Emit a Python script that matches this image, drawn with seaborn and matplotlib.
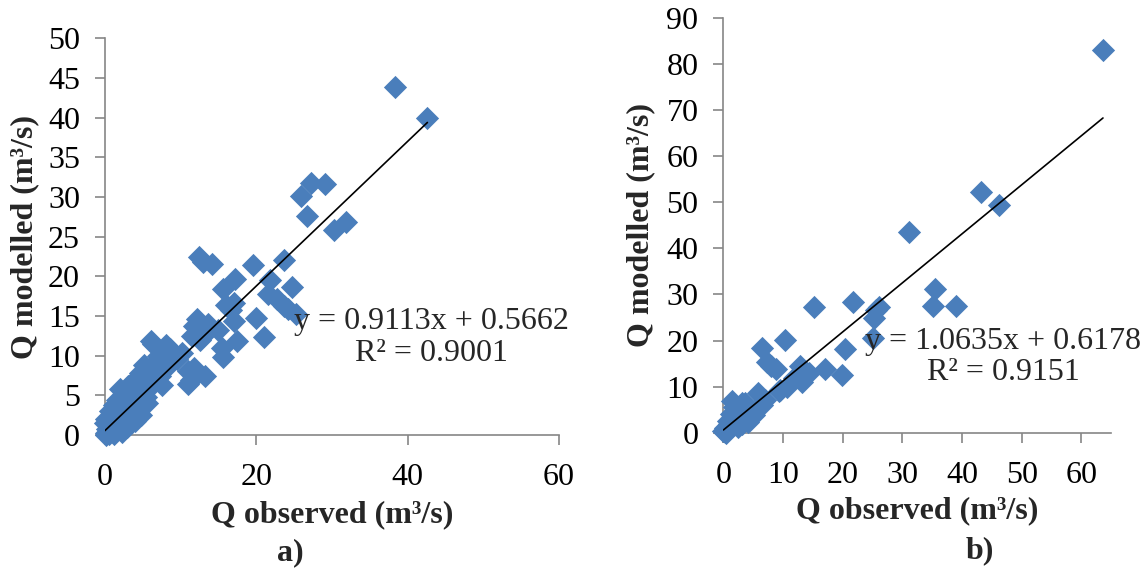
import matplotlib
matplotlib.use("Agg")
import matplotlib.pyplot as plt
import seaborn as sns
import numpy as np
import pandas as pd

# ---------------- data ----------------
obs_a = [38.3, 42.6, 25.9, 27.2, 29.1, 26.7, 30.2, 31.8,
         12.4, 12.9, 14.2, 19.6, 23.6, 21.8, 17.2, 15.6, 24.7, 21.6, 22.7, 23.6,
         24.2, 25.3, 16.0, 17.1, 16.6, 17.1, 19.9, 21.0, 17.5, 14.9, 12.1, 13.6,
         12.3, 11.5, 13.0, 12.6, 15.4, 15.6, 11.0, 11.7, 13.2, 11.0, 11.4, 10.2,
         8.0, 6.1, 7.6, 6.4, 5.2, 7.3, 7.6, 5.6, 4.0, 2.0, 8.6, 9.0, 7.0, 6.8,
         8.2, 5.8, 4.8, 3.5, 2.5, 3.0, 4.2, 5.0, 6.0, 4.5, 3.8, 3.2, 4.0, 2.6,
         2.2, 1.8, 1.2, 0.5, 0.1, 0.3, 0.0, 0.2, 0.8, 1.0, 1.5, 1.2, 2.0, 2.8,
         0.5, 0.9, 1.4, 1.8, 2.4, 3.4, 3.6, 4.6, 5.4, 2.3, 1.6, 0.6, 0.1, 0.4,
         2.9, 3.5, 4.8, 3.0, 6.3, 8.2, 11.7, 9.5, 7.8, 5.5, 4.6, 6.6]
mod_a = [43.9, 39.9, 30.1, 31.8, 31.7, 27.6, 25.9, 26.8,
         22.5, 21.8, 21.5, 21.4, 22.1, 19.5, 19.7, 18.4, 18.7, 17.8, 17.1, 16.3,
         15.9, 15.2, 16.4, 16.6, 15.8, 14.4, 14.8, 12.4, 11.9, 13.3, 14.6, 14.0,
         13.5, 12.5, 12.5, 12.0, 11.0, 9.8, 8.1, 8.5, 7.4, 6.4, 7.0, 10.4,
         11.4, 11.8, 9.3, 8.8, 8.8, 7.5, 6.3, 4.0, 7.0, 5.8, 10.8, 10.0, 10.0, 8.0,
         8.6, 7.2, 6.2, 6.5, 5.2, 4.5, 5.0, 5.5, 6.0, 3.5, 3.0, 2.2, 1.8, 1.5,
         0.4, 1.0, 0.2, 0.1, 0.3, 0.8, 1.5, 2.0, 2.5, 1.8, 3.0, 3.8, 3.5, 4.0,
         1.2, 0.6, 1.2, 2.2, 2.8, 3.6, 5.5, 4.4, 4.8, 4.5, 4.4, 3.0, 0.0, 0.4,
         1.0, 1.5, 2.5, 6.2, 11.5, 10.6, 13.8, 9.6, 9.0, 7.0, 7.8, 6.8]

obs_b = [63.6, 43.1, 46.2, 31.1, 35.5, 35.2, 39.0, 15.2, 21.7, 26.1, 25.5, 25.2,
         25.0, 20.3, 19.8, 10.3, 6.5, 7.3, 8.8, 17.0, 12.9, 13.1, 14.3, 11.8,
         13.1, 10.6, 9.3, 5.8, 7.0, 6.4, 4.2, 1.5, 3.6, 2.7, 8.0, 2.0, 1.2, 0.8,
         0.3, 0.0, 0.5, 1.0, 1.6, 2.2, 3.0, 3.8, 4.5, 2.4, 1.0, 0.2, 3.2, 4.0,
         5.2, 9.5, 1.7, 3.1, 4.5]
mod_b = [83.1, 52.3, 49.4, 43.5, 31.1, 27.6, 27.6, 27.2, 28.4, 27.2, 26.6, 24.8,
         20.5, 18.1, 12.6, 20.1, 18.4, 15.4, 13.8, 13.8, 14.5, 12.3, 13.0, 11.9,
         11.1, 9.9, 9.1, 8.7, 7.1, 6.0, 2.4, 6.8, 6.4, 4.8, 14.5, 5.5, 4.0, 2.5,
         1.0, 0.5, 0.0, 0.8, 1.6, 2.4, 3.2, 4.0, 4.4, 1.2, 2.0, 0.2, 2.0, 5.5,
         3.8, 9.3, 5.7, 6.5, 3.5]

slope_a, icpt_a, r2_a = 0.9113, 0.5662, 0.9001
slope_b, icpt_b, r2_b = 1.0635, 0.6178, 0.9151

xticks_a = [0, 20, 40, 60]
yticks_a = [0, 5, 10, 15, 20, 25, 30, 35, 40, 45, 50]
xticks_b = [0, 10, 20, 30, 40, 50, 60]
yticks_b = [0, 10, 20, 30, 40, 50, 60, 70, 80, 90]

# ---------------- style ----------------
sns.set_theme(style="white")
plt.rcParams['font.family'] = ['Liberation Serif', 'DejaVu Serif']
FS = 23
MARK = "#4A7EBB"
GREY = "#868686"

fig = plt.figure(figsize=(11.41, 5.71), dpi=100)
ax_a = fig.add_axes([0.092, 0.238, 0.398, 0.695])
ax_b = fig.add_axes([0.634, 0.242, 0.340, 0.727])


def panel(ax, obs, mod, slope, icpt, r2, xlim, ylim, xt, yt, eq_xy, tag, tag_xy,
          ylab_x, xlab_y):
    df = pd.DataFrame({"obs": obs, "mod": mod})
    sns.scatterplot(data=df, x="obs", y="mod", ax=ax, marker="D", s=140,
                    color=MARK, linewidth=0, clip_on=False, zorder=3)
    xs = np.array([min(obs), max(obs)])
    ax.plot(xs, slope * xs + icpt, color="black", lw=1.2, zorder=4)
    ax.set_xlim(*xlim)
    ax.set_ylim(*ylim)
    ax.set_xticks(xt)
    ax.set_yticks(yt)
    for s in ["top", "right"]:
        ax.spines[s].set_visible(False)
    for s in ["left", "bottom"]:
        ax.spines[s].set_color(GREY)
        ax.spines[s].set_linewidth(1.2)
    ax.tick_params(axis="both", which="major", direction="out", length=7,
                   width=1.2, color=GREY, labelsize=FS, labelcolor="black")
    ax.tick_params(axis="y", pad=11, left=True)
    ax.tick_params(axis="x", pad=13, bottom=True)
    ax.set_xlabel("Q observed (m³/s)", fontsize=FS, fontweight="bold")
    ax.set_ylabel("Q modelled (m³/s)", fontsize=FS, fontweight="bold")
    ax.xaxis.set_label_coords(0.5, xlab_y)
    ax.yaxis.set_label_coords(ylab_x, 0.5)
    ax.text(eq_xy[0], eq_xy[1],
            f"y = {slope:.4f}x + {icpt:.4f}\nR² = {r2:.4f}",
            ha="center", va="center", multialignment="center",
            fontsize=FS, clip_on=False, zorder=5, linespacing=1.1)
    fig.text(tag_xy[0], tag_xy[1], tag, ha="center", va="center",
             fontsize=FS, fontweight="bold")


panel(ax_a, obs_a, mod_a, slope_a, icpt_a, r2_a, (0, 60), (0, 50),
      xticks_a, yticks_a, (43.2, 12.3), "a)", (290 / 1141, 1 - 553 / 571),
      -0.145, -0.165)
panel(ax_b, obs_b, mod_b, slope_b, icpt_b, r2_b, (0, 65), (0, 90),
      xticks_b, yticks_b, (46.9, 16.5), "b)", (980 / 1141, 1 - 551 / 571),
      -0.175, -0.152)

fig.savefig("out.png", dpi=100)
